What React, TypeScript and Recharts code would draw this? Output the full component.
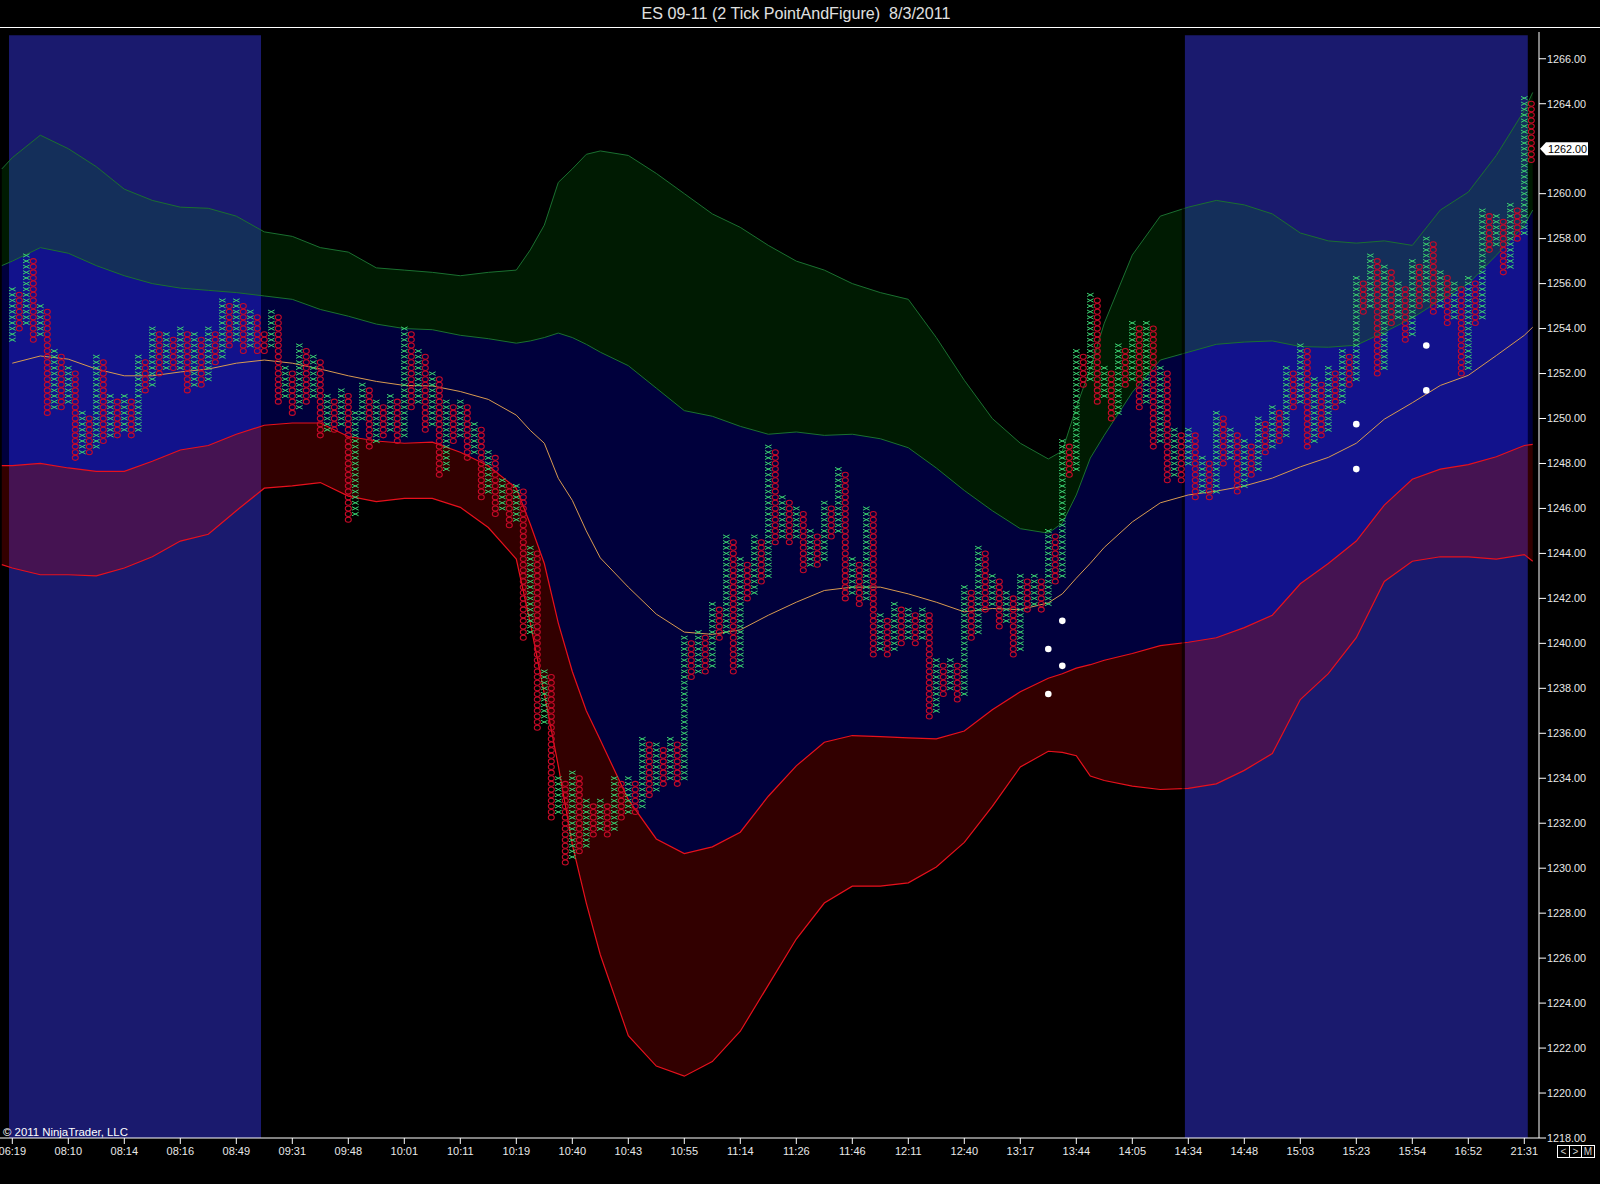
import { Area, ComposedChart, Line, ReferenceArea, ReferenceDot, Scatter, XAxis, YAxis } from 'recharts';

const TITLE = 'ES 09-11 (2 Tick PointAndFigure)  8/3/2011';
const COPYRIGHT = '\u00a9 2011 NinjaTrader, LLC';

const timeLabels = [
  '06:19', '08:10', '08:14', '08:16', '08:49', '09:31', '09:48', '10:01', '10:11', '10:19',
  '10:40', '10:43', '10:55', '11:14', '11:26', '11:46', '12:11', '12:40', '13:17', '13:44',
  '14:05', '14:34', '14:48', '15:03', '15:23', '15:54', '16:52', '21:31',
];
const timeTicks = [
  0, 8, 16, 24, 32, 40, 48, 56, 64, 72, 80, 88, 96, 104, 112, 120, 128, 136, 144, 152, 160, 168,
  176, 184, 192, 200, 208, 216,
];
// 1262 is carried by the last price flag
const priceTicks = [
  1218, 1220, 1222, 1224, 1226, 1228, 1230, 1232, 1234, 1236, 1238, 1240, 1242, 1244, 1246, 1248,
  1250, 1252, 1254, 1256, 1258, 1260, 1264, 1266,
];
const LAST_PRICE = 1262;

// point and figure columns, one entry per column
const columnKinds =
  'XOXOXOXOXOXOXOXOXOXOXOXOXOXOXOXOXOXO' + 'O' + 'XOXOXOXOXOXOX' +
  'XOXOXOXOXOXOXOXOXOXOXOXOXOXOXOXOXOXOXOXOXOXOXOXOXOXOXOXOXOXOXOXOXOXOXOXOXOXOXOXOXOXO' +
  'XOXOXOXOXOXOXOXOXOXOXOXOXOXOXOXOXOXOXOXOXOXOXOXOXOXOXOXOXOXOXOXOXOXOXOXOXOXOXOXOXOXO';
const columnHighs = [
  1255.75, 1255.5, 1257.25, 1257, 1255, 1254.75, 1253, 1252.75, 1252.25, 1252,
  1250.25, 1250, 1252.75, 1252.5, 1251, 1250.75, 1251, 1250.75, 1252.75, 1252.5,
  1254, 1253.75, 1253.75, 1253.5, 1254, 1253.75, 1253.75, 1253.5, 1254, 1253.75,
  1255.25, 1255, 1255.25, 1255, 1254.75, 1254.5, 1253.75, 1254.75, 1254.5, 1252.25,
  1252, 1253.25, 1253, 1252.75, 1252.5, 1251, 1250.75, 1251.25, 1251, 1250.25,
  1251.5, 1251.25, 1250.75, 1250.5, 1251, 1250.75, 1254, 1253.75, 1253, 1252.75,
  1252, 1251.75, 1250.75, 1250.5, 1250.75, 1250.5, 1249.75, 1249.5, 1248.5, 1248.25,
  1247.25, 1247, 1247, 1246.75, 1244.25, 1244, 1238.75, 1238.5, 1234, 1233.75,
  1234.25, 1234, 1233, 1232.75, 1233, 1232.75, 1234, 1233.75, 1234, 1233.75,
  1235.75, 1235.5, 1235.5, 1235.25, 1235.75, 1235.5, 1240.25, 1240, 1240.5, 1240.25,
  1241.75, 1241.5, 1244.75, 1244.5, 1243.75, 1243.5, 1244.75, 1244.5, 1248.75, 1248.5,
  1246.5, 1246.25, 1246, 1245.75, 1245, 1244.75, 1246.25, 1246, 1247.75, 1247.5,
  1243.75, 1243.5, 1246, 1245.75, 1241.25, 1241, 1241.75, 1241.5, 1241.5, 1241.25,
  1241.5, 1241.25, 1239.25, 1239, 1239.25, 1239, 1242.5, 1242.25, 1244.25, 1244,
  1243, 1242.75, 1242.25, 1242, 1243, 1242.75, 1243, 1242.75, 1245, 1244.75,
  1249, 1248.75, 1253, 1252.75, 1255.5, 1255.25, 1252.25, 1252, 1253.25, 1253,
  1254.25, 1254, 1254.25, 1254, 1252.25, 1252, 1249.5, 1249.25, 1249.5, 1249.25,
  1248.25, 1248, 1250.25, 1250, 1249.5, 1249.25, 1249, 1248.75, 1250, 1249.75,
  1250.5, 1250.25, 1252.25, 1252, 1253.25, 1253, 1251.75, 1251.5, 1252.25, 1252,
  1253, 1252.75, 1256.25, 1256, 1257.25, 1257, 1256.75, 1256.5, 1256, 1255.75,
  1257, 1256.75, 1258, 1257.75, 1256.5, 1256.25, 1256, 1255.75, 1256.25, 1256,
  1259.25, 1259, 1259, 1258.75, 1259.5, 1259.25, 1264.25, 1264,
];
const columnLows = [
  1253.5, 1254, 1254.25, 1253.5, 1253.75, 1250.25, 1250.5, 1250.5, 1250.75, 1248.25,
  1248.5, 1248.5, 1248.75, 1249, 1249.25, 1249.25, 1249.5, 1249.25, 1249.5, 1251.25,
  1251.5, 1252, 1252.25, 1252.25, 1252.25, 1251.25, 1251.5, 1251.5, 1251.75, 1252.5,
  1252.75, 1253.25, 1253.5, 1253, 1253.25, 1253, 1253, 1253.25, 1250.75, 1251,
  1250.25, 1250.5, 1250.75, 1251, 1249.25, 1249.5, 1249.5, 1249.75, 1245.5, 1245.75,
  1250, 1248.75, 1249, 1249.25, 1249.5, 1249, 1249.25, 1250.5, 1250.75, 1249.5,
  1249.75, 1247.5, 1247.75, 1249, 1249.25, 1248.25, 1248.5, 1246.5, 1246.75, 1245.75,
  1246, 1245.25, 1245.5, 1240.25, 1240.5, 1236.25, 1236.5, 1232.25, 1232.5, 1230.25,
  1230.5, 1230.75, 1231, 1231.5, 1231.75, 1231.5, 1231.75, 1232.25, 1232.5, 1232.5,
  1232.75, 1233.25, 1233.5, 1233.75, 1234, 1233.75, 1234, 1238.5, 1238.75, 1238.75,
  1239, 1240.25, 1240.5, 1238.75, 1239, 1242, 1242.25, 1242.75, 1243, 1244.5,
  1244.75, 1244.5, 1244.75, 1243.25, 1243.5, 1243.5, 1243.75, 1244.75, 1245, 1242,
  1242.25, 1241.75, 1242, 1239.5, 1239.75, 1239.5, 1239.75, 1240, 1240.25, 1240,
  1240.25, 1236.75, 1237, 1237.75, 1238, 1237.5, 1237.75, 1240.25, 1240.5, 1241.5,
  1241.75, 1240.75, 1241, 1239.5, 1239.75, 1241.5, 1241.75, 1241.5, 1241.75, 1242.75,
  1243, 1247.5, 1247.75, 1251.5, 1251.75, 1250.75, 1251, 1250, 1250.25, 1251.5,
  1251.75, 1250.5, 1250.75, 1248.75, 1249, 1247.25, 1247.5, 1247.25, 1248, 1246.5,
  1246.75, 1246.5, 1246.75, 1248, 1248.25, 1246.75, 1247, 1247.5, 1247.75, 1248.5,
  1248.75, 1249, 1249.25, 1250.5, 1250.75, 1248.75, 1249, 1249.25, 1249.5, 1250.5,
  1250.75, 1251.5, 1251.75, 1254.75, 1255, 1252, 1252.25, 1254.25, 1254.5, 1253.5,
  1253.75, 1255, 1255.25, 1254.75, 1255, 1254.25, 1254.5, 1252, 1252.25, 1254.25,
  1254.5, 1257.5, 1257.75, 1256.5, 1256.75, 1258, 1258.25, 1261.5,
];
const BOX_SIZE = 0.25;

// indicator bands, sampled at these columns
const bandColumns = [
  -1.5, 0, 4, 8, 12, 16, 20, 24, 28, 32, 36, 40, 44, 48, 52, 56, 60, 64, 68, 72, 74, 76, 78, 80, 82,
  84, 88, 92, 96, 100, 104, 108, 112, 116, 120, 124, 128, 132, 136, 140, 144, 148, 150, 152, 154,
  156, 160, 164, 168, 172, 176, 180, 184, 188, 192, 196, 200, 204, 208, 212, 216, 217.2,
];
const greenUpper = [
  1261.1, 1261.6, 1262.6, 1262.0, 1261.2, 1260.2, 1259.7, 1259.4, 1259.35, 1259.0, 1258.3, 1258.1,
  1257.6, 1257.4, 1256.7, 1256.6, 1256.5, 1256.35, 1256.5, 1256.6, 1257.5, 1258.6, 1260.5, 1261.1,
  1261.75, 1261.9, 1261.7, 1260.9, 1260.0, 1259.1, 1258.5, 1257.7, 1257.0, 1256.6, 1256.0, 1255.6,
  1255.3, 1253.6, 1251.7, 1250.0, 1248.9, 1248.2, 1248.55, 1250.5, 1252.23, 1254.24, 1257.27, 1259.0,
  1259.4, 1259.7, 1259.5, 1259.1, 1258.25, 1257.9, 1257.8, 1257.9, 1257.7, 1259.27, 1260.07, 1261.7,
  1263.7, 1264.5,
];
const greenLower = [
  1256.8, 1257.0, 1257.6, 1257.35, 1256.8, 1256.35, 1256.0, 1255.8, 1255.7, 1255.6, 1255.45, 1255.3,
  1254.85, 1254.55, 1254.2, 1254.0, 1253.95, 1253.7, 1253.55, 1253.35, 1253.45, 1253.6, 1253.8,
  1253.6, 1253.3, 1252.95, 1252.35, 1251.35, 1250.35, 1250.1, 1249.65, 1249.3, 1249.4, 1249.25,
  1249.3, 1249.1, 1248.7, 1247.8, 1246.8, 1245.9, 1245.1, 1244.9, 1245.35, 1246.6, 1248.24, 1249.26,
  1251.17, 1252.6, 1252.95, 1253.3, 1253.4, 1253.45, 1253.2, 1253.17, 1253.26, 1253.84, 1254.47,
  1255.26, 1256.0, 1257.26, 1258.6, 1259.27,
];
const redUpper = [
  1247.9, 1247.9, 1248.0, 1247.8, 1247.65, 1247.65, 1248.1, 1248.6, 1248.8, 1249.3, 1249.7, 1249.8,
  1249.8, 1249.2, 1249.0, 1248.9, 1248.95, 1248.5, 1247.9, 1246.9, 1245.3, 1243.55, 1240.9, 1238.75,
  1237, 1235.7, 1233.05, 1231.3, 1230.65, 1230.95, 1231.6, 1233.2, 1234.55, 1235.6, 1235.9, 1235.85,
  1235.8, 1235.75, 1236.1, 1237.05, 1237.85, 1238.45, 1238.65, 1238.9, 1239.05, 1239.25, 1239.55,
  1239.9, 1240.05, 1240.25, 1240.7, 1241.25, 1242.65, 1243.55, 1244.55, 1246.15, 1247.3, 1247.75,
  1247.95, 1248.3, 1248.8, 1248.85,
];
const redLower = [
  1243.5, 1243.35, 1243.05, 1243.05, 1243.0, 1243.35, 1243.85, 1244.55, 1244.85, 1245.9, 1246.9,
  1247.0, 1247.15, 1246.55, 1246.3, 1246.45, 1246.45, 1246.05, 1245.15, 1243.75, 1240.9, 1237.75,
  1234.55, 1231.05, 1228.45, 1226.15, 1222.55, 1221.2, 1220.75, 1221.4, 1222.75, 1224.8, 1226.85,
  1228.45, 1229.2, 1229.2, 1229.35, 1230.05, 1231.15, 1232.75, 1234.5, 1235.2, 1235.15, 1235.0,
  1234.1, 1233.9, 1233.65, 1233.5, 1233.55, 1233.75, 1234.35, 1235.1, 1237.5, 1238.65, 1240.25,
  1242.75, 1243.65, 1243.85, 1243.85, 1243.75, 1243.95, 1243.65,
];
const averageLine = [
  null, 1252.46, 1252.78, 1252.64, 1252.2, 1251.9, 1251.9, 1252.07, 1252.2, 1252.46, 1252.6, 1252.46,
  1252.2, 1251.9, 1251.65, 1251.47, 1251.45, 1251.2, 1250.85, 1250.15, 1249.47, 1248.9, 1247.34,
  1246.36, 1245.0, 1243.8, 1242.5, 1241.3, 1240.5, 1240.4, 1240.6, 1241.25, 1241.83, 1242.35, 1242.5,
  1242.5, 1242.2, 1241.83, 1241.4, 1241.55, 1241.5, 1241.8, 1242.2, 1242.9, 1243.56, 1244.27, 1245.4,
  1246.25, 1246.6, 1246.77, 1247, 1247.35, 1247.85, 1248.27, 1248.9, 1249.97, 1250.7, 1251.47,
  1251.92, 1252.8, 1253.7, 1254.06,
];

const signalColumns = [150, 148, 150, 148, 192, 192, 202, 202];
const signalPrices = [1241, 1239.75, 1239, 1237.75, 1249.75, 1247.75, 1253.25, 1251.25];

const bandRows = bandColumns.map((col, i) => ({
  col,
  green: [greenLower[i], greenUpper[i]],
  middle: [redUpper[i], greenLower[i]],
  red: [redLower[i], redUpper[i]],
  average: averageLine[i],
}));

const boxRows = (kind: string) =>
  columnHighs.flatMap((high, col) => {
    if (columnKinds[col] !== kind) return [];
    const rows = [];
    for (let price = columnLows[col]; price <= high; price += BOX_SIZE) rows.push({ col, price });
    return rows;
  });
const xBoxes = boxRows('X');
const oBoxes = boxRows('O');
const signalRows = signalColumns.map((col, i) => ({ col, price: signalPrices[i] }));

const FONT = '"Liberation Sans", Arial, sans-serif';
const X_DOMAIN = [-1.757, 218.1];
const Y_DOMAIN = [1218, 1267.19];

const XMark = ({ cx, cy }: any) => (
  <path d={`M${cx - 3.3} ${cy - 1.7}L${cx + 3.3} ${cy + 1.7}M${cx - 3.3} ${cy + 1.7}L${cx + 3.3} ${cy - 1.7}`} stroke="#3ad070" strokeWidth={1} fill="none" />
);
const OMark = ({ cx, cy }: any) => (
  <ellipse cx={cx} cy={cy} rx={3} ry={2.5} stroke="#c80a28" strokeWidth={1.05} fill="none" />
);
const SignalDot = ({ cx, cy }: any) => <circle cx={cx} cy={cy} r={3.3} fill="#ffffff" />;

const PriceFlag = ({ cx, cy }: any) => (
  <g>
    <path d={`M${cx + 1} ${cy}L${cx + 7} ${cy - 6.5}H${cx + 49}V${cy + 6.5}H${cx + 7}Z`} fill="#ffffff" />
    <text x={cx + 9} y={cy + 4} fontSize={10.8} fontFamily={FONT} fill="#000000">
      {LAST_PRICE.toFixed(2)}
    </text>
  </g>
);

const buttonStyle = {
  position: 'absolute',
  top: 1145,
  height: 11,
  border: '1px solid #ffffff',
  color: '#d0d0d0',
  font: `10px ${FONT}`,
  lineHeight: '11px',
  textAlign: 'center',
} as const;

export default function App() {
  return (
    <div style={{ position: 'absolute', left: 0, top: 0, width: 1600, height: 1184, background: '#000000', overflow: 'hidden' }}>
      <div style={{ position: 'absolute', left: 0, width: 1592, top: 4, textAlign: 'center', color: '#e0e0e0', font: `16.1px ${FONT}`, whiteSpace: 'pre' }}>
        {TITLE}
      </div>
      <div style={{ position: 'absolute', left: 0, top: 27, width: 1600, height: 1, background: '#ffffff' }} />
      <ComposedChart width={1600} height={1184} data={bandRows} margin={{ top: 32, right: 0, bottom: 0, left: 0 }}>
        <XAxis
          dataKey="col"
          type="number"
          domain={X_DOMAIN}
          allowDataOverflow
          ticks={timeTicks}
          interval={0}
          tickFormatter={(col: number) => timeLabels[timeTicks.indexOf(col)]}
          height={46}
          tickSize={6}
          tickMargin={3}
          stroke="#ffffff"
          tick={{ fill: '#e8e8e8', fontSize: 11, fontFamily: FONT }}
        />
        <YAxis
          type="number"
          orientation="right"
          domain={Y_DOMAIN}
          allowDataOverflow
          ticks={priceTicks}
          interval={0}
          tickFormatter={(price: number) => price.toFixed(2)}
          width={61}
          tickSize={7}
          tickMargin={1}
          stroke="#ffffff"
          tick={{ fill: '#e8e8e8', fontSize: 10.8, fontFamily: FONT }}
        />
        <ReferenceArea x1={-0.47} x2={35.53} y1={1218} y2={1267.05} fill="#1a1a6e" fillOpacity={1} stroke="none" />
        <ReferenceArea x1={167.5} x2={216.5} y1={1218} y2={1267.05} fill="#1a1a6e" fillOpacity={1} stroke="none" />
        <Area dataKey="middle" type="linear" stroke="none" fill="#0000de" fillOpacity={0.27} isAnimationActive={false} />
        <Area dataKey="green" type="linear" stroke="#1a7030" strokeWidth={1} fill="#00870a" fillOpacity={0.2} isAnimationActive={false} />
        <Area dataKey="red" type="linear" stroke="#e8101c" strokeWidth={1.2} fill="#c80000" fillOpacity={0.25} isAnimationActive={false} />
        <Line dataKey="average" type="linear" stroke="#d89a50" strokeWidth={1} dot={false} isAnimationActive={false} />
        <Scatter data={xBoxes} dataKey="price" shape={XMark} isAnimationActive={false} />
        <Scatter data={oBoxes} dataKey="price" shape={OMark} isAnimationActive={false} />
        <Scatter data={signalRows} dataKey="price" shape={SignalDot} isAnimationActive={false} />
        <ReferenceArea x1={167.07} x2={167.5} y1={1218} y2={1267.05} fill="#000000" fillOpacity={0.6} stroke="none" />
        <ReferenceDot x={218.1} y={LAST_PRICE} ifOverflow="visible" shape={PriceFlag} />
      </ComposedChart>
      <div style={{ position: 'absolute', left: 3, top: 1126, color: '#ffffff', font: `11.4px ${FONT}`, whiteSpace: 'pre' }}>{COPYRIGHT}</div>
      <div style={{ ...buttonStyle, left: 1557, width: 11 }}>{'<'}</div>
      <div style={{ ...buttonStyle, left: 1569, width: 11 }}>{'>'}</div>
      <div style={{ ...buttonStyle, left: 1581, width: 12 }}>M</div>
    </div>
  );
}
